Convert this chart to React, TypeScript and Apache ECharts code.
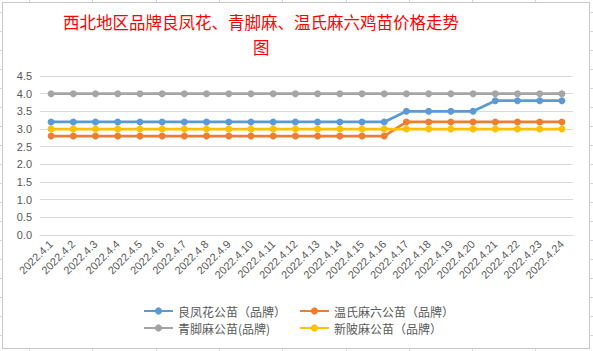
import React, { useEffect, useRef } from "react";
import * as echarts from "echarts";

const titleLine1 = "西北地区品牌良凤花、青脚麻、温氏麻六鸡苗价格走势";
const titleLine2 = "图";

const categories = [
  "2022.4.1", "2022.4.2", "2022.4.3", "2022.4.4", "2022.4.5", "2022.4.6",
  "2022.4.7", "2022.4.8", "2022.4.9", "2022.4.10", "2022.4.11", "2022.4.12",
  "2022.4.13", "2022.4.14", "2022.4.15", "2022.4.16", "2022.4.17", "2022.4.18",
  "2022.4.19", "2022.4.20", "2022.4.21", "2022.4.22", "2022.4.23", "2022.4.24",
];

const seriesNames = [
  "良凤花公苗（品牌）",
  "温氏麻六公苗（品牌）",
  "青脚麻公苗(品牌)",
  "新陂麻公苗（品牌）",
];

const liangfenghua = [
  3.2, 3.2, 3.2, 3.2, 3.2, 3.2, 3.2, 3.2, 3.2, 3.2, 3.2, 3.2,
  3.2, 3.2, 3.2, 3.2, 3.5, 3.5, 3.5, 3.5, 3.8, 3.8, 3.8, 3.8,
];
const wenshimaliu = [
  2.8, 2.8, 2.8, 2.8, 2.8, 2.8, 2.8, 2.8, 2.8, 2.8, 2.8, 2.8,
  2.8, 2.8, 2.8, 2.8, 3.2, 3.2, 3.2, 3.2, 3.2, 3.2, 3.2, 3.2,
];
const qingjiaoma = [
  4.0, 4.0, 4.0, 4.0, 4.0, 4.0, 4.0, 4.0, 4.0, 4.0, 4.0, 4.0,
  4.0, 4.0, 4.0, 4.0, 4.0, 4.0, 4.0, 4.0, 4.0, 4.0, 4.0, 4.0,
];
const xinpima = [
  3.0, 3.0, 3.0, 3.0, 3.0, 3.0, 3.0, 3.0, 3.0, 3.0, 3.0, 3.0,
  3.0, 3.0, 3.0, 3.0, 3.0, 3.0, 3.0, 3.0, 3.0, 3.0, 3.0, 3.0,
];

const seriesData = [liangfenghua, wenshimaliu, qingjiaoma, xinpima];
const colors = ["#5B9BD5", "#ED7D31", "#A5A5A5", "#FFC000"];

const W = 593;
const H = 351;

export default function App() {
  const ref = useRef<HTMLDivElement>(null);

  useEffect(() => {
    if (!ref.current) return;
    const chart = echarts.init(ref.current, undefined, { renderer: "svg" });
    const legendPos = [
      { left: 143, top: 305 },
      { left: 299, top: 305 },
      { left: 143, top: 322 },
      { left: 299, top: 322 },
    ];
    const titleStyle = {
      color: "#FF0000",
      fontSize: 16.5,
      fontWeight: "normal",
      fontFamily: "Noto Sans CJK SC",
      lineHeight: 18,
    };
    chart.setOption({
      animation: false,
      backgroundColor: "transparent",
      title: [
        { text: titleLine1, left: 63, top: 13, padding: 0, textStyle: titleStyle },
        { text: titleLine2, left: 253, top: 38, padding: 0, textStyle: titleStyle },
      ],
      legend: seriesNames.map((n, i) => ({
        data: [n],
        left: legendPos[i].left,
        top: legendPos[i].top,
        padding: 0,
        itemWidth: 29,
        itemHeight: 9,
        itemGap: 0,
        textStyle: {
          color: "#595959",
          fontSize: 12,
          fontFamily: "Noto Sans CJK SC",
        },
      })),
      grid: { left: 40, right: 20, top: 76, bottom: 116, containLabel: false },
      xAxis: {
        type: "category",
        data: categories,
        boundaryGap: true,
        axisLine: { show: true, lineStyle: { color: "#D9D9D9", width: 1 } },
        axisTick: { show: false },
        axisLabel: {
          rotate: 45,
          interval: 0,
          color: "#595959",
          fontSize: 11,
          fontFamily: "Liberation Sans",
          margin: 7,
        },
      },
      yAxis: {
        type: "value",
        min: 0,
        max: 4.5,
        interval: 0.5,
        axisLine: { show: false },
        axisTick: { show: false },
        axisLabel: {
          color: "#595959",
          fontSize: 11,
          fontFamily: "Liberation Sans",
          margin: 8,
          formatter: (v: number) => v.toFixed(1),
        },
        splitLine: { lineStyle: { color: "#D9D9D9", width: 1 } },
      },
      series: seriesNames.map((n, i) => ({
        name: n,
        type: "line",
        data: seriesData[i],
        symbol: "circle",
        symbolSize: 7,
        color: colors[i],
        lineStyle: { width: 2.75, color: colors[i] },
        itemStyle: { color: colors[i] },
      })),
    });
    return () => chart.dispose();
  }, []);

  const vLines: number[] = [];
  for (let x = 29; x < W; x += 63.3) vLines.push(x);
  const hLines: number[] = [];
  for (let y = 11.7; y < H; y += 19) hLines.push(y);

  return (
    <div
      style={{
        position: "fixed",
        left: 0,
        top: 0,
        width: W,
        height: H,
        background: "#FFFFFF",
        overflow: "hidden",
      }}
    >
      {vLines.map((x, i) => (
        <div
          key={"v" + i}
          style={{
            position: "absolute",
            left: Math.round(x),
            top: 0,
            width: 1,
            height: H,
            background: "#D4D4DE",
          }}
        />
      ))}
      {hLines.map((y, i) => (
        <div
          key={"h" + i}
          style={{
            position: "absolute",
            left: 0,
            top: Math.round(y),
            width: W,
            height: 1,
            background: "#D4D4DE",
          }}
        />
      ))}
      <div
        style={{
          position: "absolute",
          left: 2,
          top: 2,
          width: 588,
          height: 347,
          boxSizing: "border-box",
          border: "1px solid #C6C6CE",
          background: "#FFFFFF",
        }}
      />
      <div
        ref={ref}
        style={{ position: "absolute", left: 0, top: 0, width: W, height: H }}
      />
    </div>
  );
}
